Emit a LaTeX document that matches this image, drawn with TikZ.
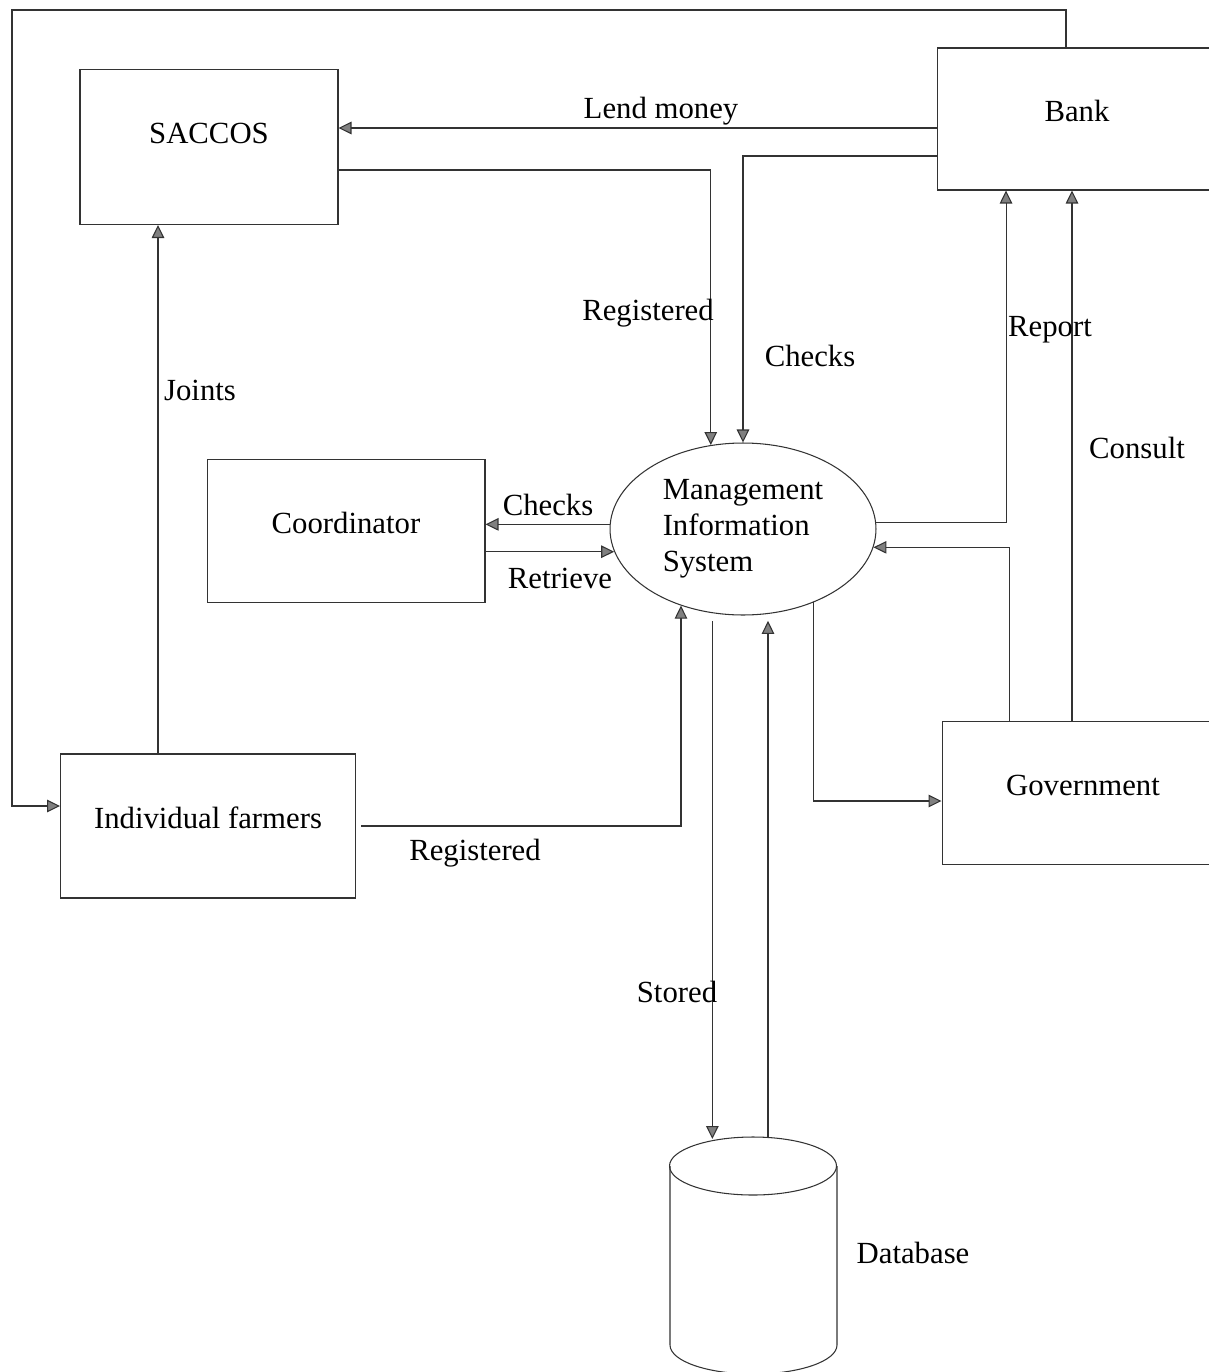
\documentclass[tikz,border=0pt]{standalone}
\usepackage{fontspec}
\setmainfont{Liberation Serif}
\usetikzlibrary{arrows.meta,shapes.geometric}

\tikzset{
    box/.style={draw=black!80, line width=0.6pt, inner sep=0pt, text height=0.45cm, text depth=0.37cm},
    flow/.style={draw=black!80, line width=0.6pt,
        -{Triangle[length=0.26cm, width=0.25cm, fill=gray]}},
    lbl/.style={inner sep=0pt}
}

\begin{document}
\begin{tikzpicture}[x=0.02cm, y=-0.02cm, font=\fontsize{17.5}{20.5}\selectfont]
            \path[use as bounding box, clip] (0, 0) rectangle (1209, 1372);

            \node[box, minimum width=5.16cm, minimum height=3.1cm, text depth=0.61cm] (saccos) at (209, 147) {SACCOS};
            \node[box, minimum width=5.6cm, minimum height=2.84cm] (bank) at (1077, 119) {Bank};
            \node[box, minimum width=5.56cm, minimum height=2.86cm] (coord) at (346, 531) {Coordinator};
            \node[box, minimum width=5.9cm, minimum height=2.88cm] (farmers) at (208, 826) {Individual farmers};
            \node[box, minimum width=5.64cm, minimum height=2.86cm] (gov) at (1083, 793) {Government};
            \node[draw=black!80, line width=0.6pt, shape=ellipse, inner sep=0pt, minimum width=5.32cm, minimum height=3.44cm, align=left] (mis) at (743, 529) {\raisebox{-0.2cm}{}Management\\Information\\System};

            % database drum
            \coordinate (db) at (753, 1166);
            \draw[draw=black!80, line width=0.6pt] (db) ellipse [x radius=83.5, y radius=29];
            \draw[draw=black!80, line width=0.6pt] (670, 1166) -- (670, 1345)
                arc [start angle=180, end angle=0, x radius=83.5, y radius=29] -- (837, 1166);
            \coordinate (dbin) at (715, 1139);
            \coordinate (dbout) at (768, 1138);

            \coordinate (corner) at (12, 10);

            \draw[flow] ([yshift=-0.18cm]bank.west) -- ([yshift=-0.18cm]bank.west -| saccos.east);
            \draw[flow] ([yshift=-0.46cm]saccos.east) -| (mis.111.6);
            \draw[flow] ([yshift=-0.74cm]bank.west) -| (mis.north);
            \draw[flow] ([xshift=-1cm]farmers.north) -- ([xshift=-1cm]farmers.north |- saccos.south);
            \draw[flow] (mis.178.7) -- (mis.178.7 -| coord.east);
            \draw[flow] (mis.-170.75 -| coord.east) -- (mis.-170.75);
            \draw[flow] (mis.3.5) -| ([xshift=-1.42cm]bank.south);
            \draw[flow] ([xshift=-0.22cm]gov.north) -- ([xshift=-0.22cm]gov.north |- bank.south);
            \draw[flow] ([xshift=-1.48cm]gov.north) |- (mis.-8.3);
            \draw[flow] (mis.-46.2) |- ([yshift=-0.16cm]gov.west);
            \draw[flow] ([xshift=0.1cm]farmers.east) -| (mis.-129.8);
            \draw[flow, shorten <=0.16cm] (mis.-110.3) -- (mis.-110.3 |- dbin);
            \draw[flow, shorten >=0.14cm] (dbout) -- (mis.-73.5 -| dbout);
            \draw[flow] ([xshift=-0.22cm]bank.north) |- (corner) |- ([yshift=0.4cm]farmers.west);

            \node[lbl] (lendlbl) at (661, 111) {Lend money};
            \node[lbl] (reglbl) at (648, 313) {Registered};
            \node[lbl] (chklbl) at (810, 356) {Checks};
            \node[lbl] (replbl) at (1050, 330) {Report};
            \node[lbl] (conlbl) at (1137, 448) {Consult};
            \node[lbl] (joinlbl) at (200, 390) {Joints};
            \node[lbl] (chk2lbl) at (548, 505) {Checks};
            \node[lbl] (retlbl) at (560, 578) {Retrieve};
            \node[lbl] (reg2lbl) at (475, 853) {Registered};
            \node[lbl] (storlbl) at (677, 992) {Stored};
            \node[lbl] (dblbl) at (913, 1253) {Database};

        \end{tikzpicture}
\end{document}
